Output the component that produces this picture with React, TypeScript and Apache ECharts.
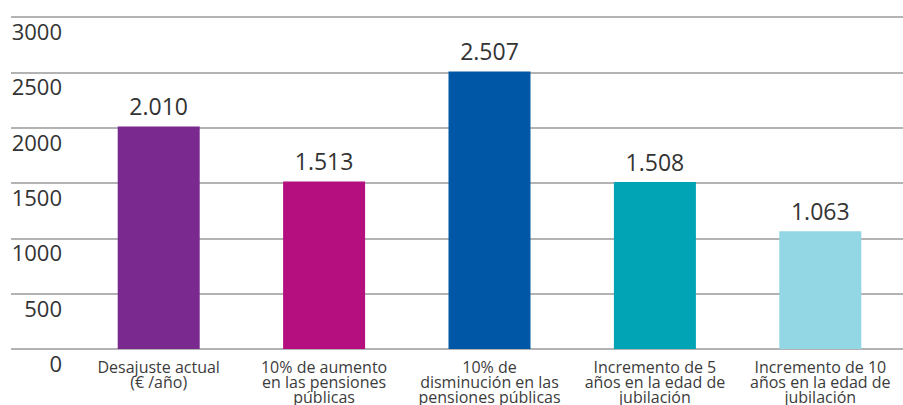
import React, { useEffect, useRef } from "react";
import * as echarts from "echarts";

const categories = [
  "Desajuste actual\n(€ /año)",
  "10% de aumento\nen las pensiones\npúblicas",
  "10% de\ndisminución en las\npensiones públicas",
  "Incremento de 5\naños en la edad de\njubilación",
  "Incremento de 10\naños en la edad de\njubilación",
];
const values = [2010, 1513, 2507, 1508, 1063];
const colors = ["#7a2a8f", "#b50e7e", "#0057a6", "#00a4b4", "#92d7e3"];
const yMin = 0;
const yMax = 3000;
const yInterval = 500;

const fmt = (v: number) => {
  const s = String(Math.round(v));
  return s.replace(/\B(?=(\d{3})+(?!\d))/g, ".");
};

export default function App() {
  const ref = useRef<HTMLDivElement>(null);
  useEffect(() => {
    if (!ref.current) return;
    const chart = echarts.init(ref.current, undefined, { renderer: "svg" });
    const font = "'Open Sans', 'Noto Sans', sans-serif";
    chart.setOption({
      animation: false,
      backgroundColor: "#ffffff",
      grid: [
        { left: 11, right: 0, top: 17, bottom: 56 },
        { left: 76, right: 0, top: 17, bottom: 56 },
      ],
      xAxis: [
        { gridIndex: 0, type: "category", data: [""], show: false },
        {
          gridIndex: 1,
          type: "category",
          data: categories,
          axisLine: { show: false },
          axisTick: { show: false },
          axisLabel: {
            interval: 0,
            fontFamily: font,
            fontSize: 16,
            lineHeight: 15,
            color: "#3c3c3c",
            margin: 10,
          },
        },
      ],
      yAxis: [
        {
          gridIndex: 0,
          type: "value",
          min: yMin,
          max: yMax,
          interval: yInterval,
          axisLine: { show: false },
          axisTick: { show: false },
          splitLine: { show: true, lineStyle: { color: "#9a9a9a", width: 1.5 } },
          axisLabel: {
            inside: true,
            align: "right",
            margin: 51,
            verticalAlign: "top",
            padding: [3, 0, 0, 0],
            fontFamily: font,
            fontSize: 22,
            color: "#333333",
            formatter: (v: number) => String(v),
          },
        },
        {
          gridIndex: 1,
          type: "value",
          min: yMin,
          max: yMax,
          interval: yInterval,
          show: false,
        },
      ],
      series: [
        {
          type: "bar",
          xAxisIndex: 1,
          yAxisIndex: 1,
          barWidth: 82,
          data: values.map((v, i) => ({ value: v, itemStyle: { color: colors[i] } })),
          label: {
            show: true,
            position: "top",
            distance: 9,
            fontFamily: font,
            fontSize: 23,
            color: "#333333",
            formatter: (p: any) => fmt(p.value),
          },
        },
      ],
    });
    return () => chart.dispose();
  }, []);
  return (
    <div
      ref={ref}
      style={{ position: "fixed", left: 0, top: 0, width: 903, height: 405 }}
    />
  );
}
